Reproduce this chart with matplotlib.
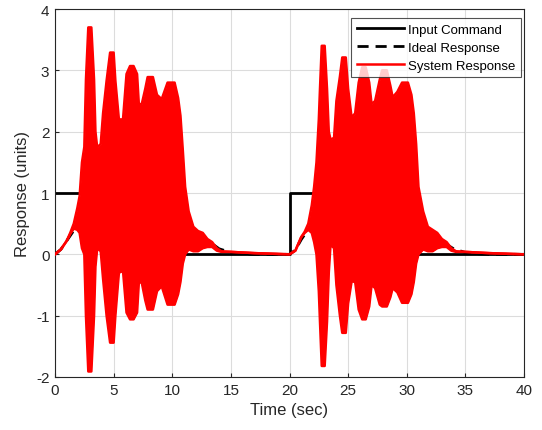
import numpy as np
import matplotlib
matplotlib.use("Agg")
import matplotlib.pyplot as plt

# Input command (step pulses)
cmd_t = [0, 10, 10, 20, 20, 30, 30, 40]
cmd_v = [1, 1, 0, 0, 1, 1, 0, 0]

# Ideal response (smooth)
ideal_t = [0, 0.5, 1, 1.5, 2, 3, 4, 5, 10, 10.5, 11, 11.5, 12, 12.5, 13, 13.5, 14, 15, 16, 17,
           20, 20.5, 21, 21.5, 22, 23, 24, 25, 30, 30.5, 31, 31.5, 32, 32.5, 33, 33.5, 34, 35, 36, 37, 40]
ideal_v = [0, 0.08, 0.22, 0.36, 0.5, 0.8, 0.95, 1.0, 1.0, 0.9, 0.6, 0.4, 0.32, 0.26, 0.21, 0.16, 0.09, 0.03, 0.01, 0,
           0, 0.07, 0.24, 0.38, 0.5, 0.8, 0.95, 1.0, 1.0, 0.9, 0.6, 0.4, 0.32, 0.26, 0.21, 0.15, 0.09, 0.03, 0.01, 0, 0]

# System response envelope (upper / lower extent of the fast oscillation)
sys_t = [0, 0.5, 1.0, 1.3, 1.6, 1.9, 2.1, 2.3, 2.5, 2.64, 2.84, 3.1, 3.33, 3.45, 3.6, 3.9, 4.1, 4.4, 4.7, 5.0,
         5.15, 5.45, 5.8, 6.1, 6.4, 6.7, 7.0, 7.15, 7.4, 7.7, 7.9, 8.35, 8.7, 9.1, 9.6, 10.2, 10.5, 10.7,
         10.9, 11.1, 11.4, 11.8, 12.2, 12.6, 13.0, 13.4, 13.8, 14.2, 15, 17, 20,
         20.5, 21.0, 21.3, 21.6, 21.9, 22.1, 22.3, 22.5, 22.6, 22.75, 23.0, 23.2, 23.35, 23.5, 23.8, 24.0,
         24.3, 24.5, 24.8, 25.0, 25.3, 25.6, 25.9, 26.2, 26.5, 26.8, 27.0, 27.3, 27.7, 27.9, 28.3, 28.6,
         28.8, 29.2, 29.6, 30.1, 30.4, 30.6, 30.8, 31.0, 31.4, 31.8, 32.2, 32.6, 33.0, 33.4, 33.8, 34.2,
         35, 37, 40]
sys_hi = [0, 0.08, 0.22, 0.35, 0.5, 0.75, 0.95, 1.5, 1.75, 2.85, 3.7, 3.7, 2.85, 2.0, 1.74, 1.8, 2.3, 2.83, 3.29, 3.29,
          2.83, 2.2, 2.2, 2.94, 3.07, 3.07, 2.94, 2.45, 2.45, 2.7, 2.89, 2.89, 2.6, 2.53, 2.8, 2.8, 2.55, 2.26,
          1.7, 1.1, 0.7, 0.45, 0.38, 0.35, 0.25, 0.2, 0.1, 0.05, 0.04, 0.02, 0,
          0.06, 0.28, 0.37, 0.5, 0.8, 1.1, 1.5, 2.2, 2.7, 3.4, 3.4, 2.7, 2.0, 1.87, 1.9, 2.5,
          2.9, 3.21, 3.21, 2.7, 2.23, 2.3, 2.8, 3.05, 3.05, 2.8, 2.45, 2.5, 2.85, 3.0, 3.0, 2.75,
          2.56, 2.65, 2.8, 2.8, 2.6, 2.3, 1.8, 1.1, 0.7, 0.45, 0.4, 0.35, 0.25, 0.2, 0.1, 0.05,
          0.04, 0.02, 0]
sys_lo = [0, 0.08, 0.22, 0.33, 0.42, 0.4, 0.35, 0.1, 0.0, -1.0, -1.91, -1.91, -1.0, -0.2, 0.1, 0.05, -0.4, -1.0, -1.44, -1.44,
          -1.0, -0.3, -0.27, -0.95, -1.06, -1.06, -0.95, -0.46, -0.46, -0.75, -0.9, -0.9, -0.6, -0.52, -0.82, -0.82, -0.65, -0.45,
          -0.15, 0.0, 0.08, 0.05, 0.05, 0.1, 0.12, 0.12, 0.06, 0.04, 0.04, 0.02, 0,
          0.06, 0.28, 0.35, 0.4, 0.35, 0.2, 0.0, -0.6, -1.1, -1.82, -1.82, -1.1, -0.3, 0.16, 0.1, -0.5,
          -1.0, -1.28, -1.28, -0.8, -0.44, -0.45, -0.9, -1.06, -1.06, -0.85, -0.5, -0.55, -0.82, -0.85, -0.85, -0.7,
          -0.55, -0.62, -0.79, -0.79, -0.65, -0.45, -0.15, 0.0, 0.08, 0.05, 0.05, 0.1, 0.12, 0.12, 0.06, 0.04,
          0.04, 0.02, 0]

xticks = [0, 5, 10, 15, 20, 25, 30, 35, 40]
yticks = [-2, -1, 0, 1, 2, 3, 4]

plt.rcParams['font.family'] = ['Liberation Sans', 'DejaVu Sans']
plt.rcParams['axes.unicode_minus'] = False
fig = plt.figure(figsize=(5.42, 4.31), dpi=100)
ax = fig.add_axes([55/542, 1 - 378/431, (524-55)/542, (378-10)/431])

red = '#ff0000'
ax.plot(cmd_t, cmd_v, color='black', lw=2, label='Input Command', zorder=2)
ax.plot(ideal_t, ideal_v, color='black', lw=2, ls=(0, (4, 2.5)), label='Ideal Response', zorder=2)
ax.fill_between(sys_t, sys_lo, sys_hi, color=red, lw=0, zorder=3)
ax.plot(sys_t, sys_hi, color=red, lw=1.8, zorder=3, label='System Response')
ax.plot(sys_t, sys_lo, color=red, lw=1.8, zorder=3)
ax.set_xlim(0, 40)
ax.set_ylim(-2, 4)
ax.set_xticks(xticks)
ax.set_yticks(yticks)
ax.grid(True, color='#dcdcdc', lw=0.8)
ax.set_axisbelow(True)
ax.tick_params(direction='in', length=3, labelsize=11, colors='#262626', pad=4)
for s in ax.spines.values():
    s.set_color('#262626')
    s.set_linewidth(0.8)
ax.set_xlabel('Time (sec)', fontsize=12, color='#262626')
ax.set_ylabel('Response (units)', fontsize=12, color='#262626')
leg = ax.legend(loc='upper right', fontsize=9.5, frameon=True, fancybox=False,
                edgecolor='#262626', bbox_to_anchor=(0.993, 0.975), borderaxespad=0.0,
                handlelength=3.6, labelspacing=0.45, borderpad=0.4, handletextpad=0.3)
leg.get_frame().set_linewidth(0.8)
leg.set_zorder(5)
fig.savefig('out.png', dpi=100)
